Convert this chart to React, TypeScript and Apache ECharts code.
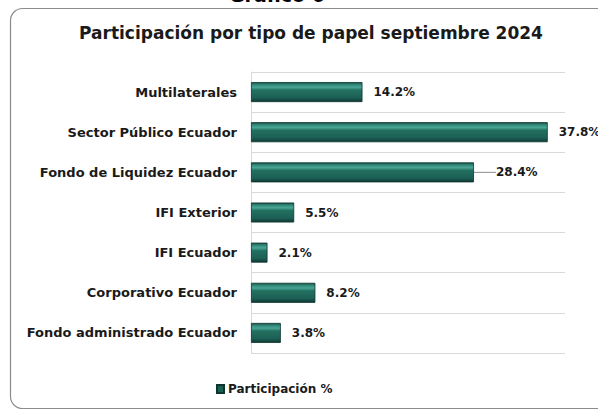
import React, { useEffect, useRef } from "react";
import * as echarts from "echarts";

const categories = [
  "Multilaterales",
  "Sector Público Ecuador",
  "Fondo de Liquidez Ecuador",
  "IFI Exterior",
  "IFI Ecuador",
  "Corporativo Ecuador",
  "Fondo administrado Ecuador",
];
const values = [14.2, 37.8, 28.4, 5.5, 2.1, 8.2, 3.8];
const movedLabels = [2];
const seriesName = "Participación %";
const titleText = "Participación por tipo de papel septiembre 2024";
const topText = "Gráfico 6";
const FONT = "DejaVu Sans";

export default function App() {
  const ref = useRef<HTMLDivElement>(null);
  useEffect(() => {
    if (!ref.current) return;
    const chart = echarts.init(ref.current, null, { renderer: "svg" });
    const barColor = new echarts.graphic.LinearGradient(0, 0, 0, 1, [
      { offset: 0, color: "#164d45" },
      { offset: 0.1, color: "#2f8272" },
      { offset: 0.25, color: "#49a596" },
      { offset: 0.4, color: "#23705f" },
      { offset: 0.8, color: "#1c5f55" },
      { offset: 1, color: "#0e3832" },
    ]);
    const data = values.map((v, i) =>
      movedLabels.includes(i)
        ? { value: v, labelLine: { show: true } }
        : { value: v }
    );
    chart.setOption({
      animation: false,
      backgroundColor: "#ffffff",
      graphic: [
        {
          type: "rect",
          shape: { x: 10.5, y: 8.5, width: 640, height: 400, r: 12 },
          style: { fill: "none", stroke: "#8c8c8c", lineWidth: 1.2 },
          silent: true,
          z: 0,
        },
        {
          type: "text",
          x: 277,
          y: -15,
          style: {
            text: topText,
            fontFamily: FONT,
            fontWeight: "bold",
            fontSize: 19,
            fill: "#000",
            align: "center",
            verticalAlign: "top",
          },
        },
      ],
      title: {
        text: titleText,
        left: 306,
        textAlign: "center",
        top: 19,
        textStyle: {
          fontFamily: FONT,
          fontWeight: "bold",
          fontSize: 17,
          color: "#1a1a1a",
        },
      },
      legend: {
        bottom: 10,
        left: 211,
        itemWidth: 7,
        itemHeight: 8,
        itemGap: 4,
        icon: "rect",
        data: [{ name: seriesName, itemStyle: { color: "#1c5f55" } }],
        textStyle: {
          fontFamily: FONT,
          fontWeight: "bold",
          fontSize: 12,
          color: "#1a1a1a",
          padding: [0, 0, 0, -1],
        },
      },
      grid: { left: 251, right: 33, top: 72, bottom: 57, containLabel: false },
      xAxis: {
        type: "value",
        min: 0,
        max: 40,
        show: false,
        splitLine: { show: false },
      },
      yAxis: {
        type: "category",
        data: categories,
        inverse: true,
        axisTick: { show: false },
        axisLine: { show: true, lineStyle: { color: "#d9d9d9", width: 1 } },
        splitLine: { show: true, lineStyle: { color: "#d9d9d9", width: 1 } },
        axisLabel: {
          fontFamily: FONT,
          fontWeight: "bold",
          fontSize: 13,
          color: "#1a1a1a",
          margin: 14,
        },
      },
      series: [
        {
          type: "bar",
          name: seriesName,
          data,
          barWidth: 20,
          itemStyle: {
            color: barColor,
            borderColor: "#0d3530",
            borderWidth: 0.8,
          },
          label: {
            show: true,
            position: "right",
            distance: 11,
            formatter: (p: any) => p.value.toFixed(1) + "%",
            fontFamily: FONT,
            fontWeight: "bold",
            fontSize: 12,
            color: "#1a1a1a",
          },
          labelLayout: (p: any) =>
            movedLabels.includes(p.dataIndex) ? { dx: 11 } : {},
          labelLine: {
            show: false,
            lineStyle: { color: "#8c8c8c", width: 1 },
          },
        },
      ],
    });
    return () => chart.dispose();
  }, []);
  return <div ref={ref} style={{ width: 598, height: 410, position: "absolute", left: 0, top: 0 }} />;
}
